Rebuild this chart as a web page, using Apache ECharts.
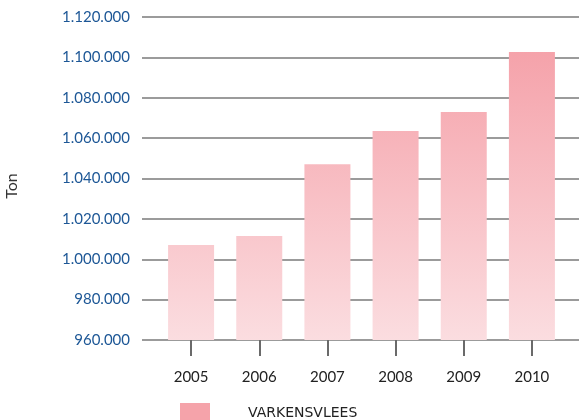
<!DOCTYPE html>
<html lang="nl">
<head>
    <meta charset="UTF-8">
    <title>Varkensvlees</title>
    <script src="https://cdn.jsdelivr.net/npm/echarts@6/dist/echarts.min.js"></script>
</head>
<body style="margin: 0">
<div id="chart" style="width: 579px;height: 420px"></div>
<script>
    // data
    let years = ['2005', '2006', '2007', '2008', '2009', '2010'];
    let pork = [1007000, 1011500, 1047000, 1063500, 1073000, 1102700];
    let seriesName = 'VARKENSVLEES';
    let yMin = 960000, yMax = 1120000, yStep = 20000;

    function dots(v) {
        return String(v).replace(/\B(?=(\d{3})+(?!\d))/g, '.');
    }

    let chart = echarts.init(document.getElementById('chart'));
    let option = {
        animation: false,
        textStyle: { fontFamily: 'Lato' },
        grid: [
            { left: 142, right: 0, top: 17, bottom: 80 },
            { left: 157, right: 13, top: 17, bottom: 80 }
        ],
        xAxis: [
            { gridIndex: 0, type: 'value', show: false, min: 0, max: 1 },
            {
                gridIndex: 1,
                type: 'category',
                data: years,
                axisLine: { show: true, lineStyle: { opacity: 0 } },
                axisTick: {
                    show: true,
                    alignWithLabel: true,
                    length: 16,
                    lineStyle: { color: '#6a6a6a', width: 2, opacity: 1 }
                },
                axisLabel: { margin: 30, fontSize: 15, color: '#222' }
            }
        ],
        yAxis: [
            {
                gridIndex: 0,
                type: 'value',
                min: yMin, max: yMax, interval: yStep,
                axisLine: { show: false },
                axisTick: { show: false },
                axisLabel: {
                    margin: 12, fontSize: 15, color: '#1d5796',
                    formatter: dots
                },
                splitLine: { lineStyle: { color: '#7a7a7a', width: 1.5 } }
            },
            {
                gridIndex: 1,
                type: 'value',
                min: yMin, max: yMax, interval: yStep,
                show: false,
                splitLine: { show: false }
            }
        ],
        legend: {
            left: 180,
            top: 403,
            padding: 0,
            itemWidth: 30,
            itemHeight: 20,
            data: [{ name: seriesName, icon: 'rect', itemStyle: { color: '#f5a3aa' } }],
            textStyle: { fontFamily: 'DejaVu Sans', fontSize: 14, color: '#222', padding: [0, 0, 0, 33] }
        },
        graphic: [{
            type: 'text',
            x: 12,
            y: 186,
            rotation: Math.PI / 2,
            style: {
                text: 'Ton', fontFamily: 'Lato', fontSize: 16, fill: '#333',
                align: 'center', verticalAlign: 'middle'
            }
        }],
        series: [{
            name: seriesName,
            type: 'bar',
            xAxisIndex: 1,
            yAxisIndex: 1,
            barWidth: 46,
            data: pork,
            itemStyle: {
                color: new echarts.graphic.LinearGradient(0, 50, 0, 340, [
                    { offset: 0, color: '#f5a2aa' },
                    { offset: 1, color: '#fbdde0' }
                ], true)
            }
        }]
    };
    chart.setOption(option);
</script>
</body>
</html>
